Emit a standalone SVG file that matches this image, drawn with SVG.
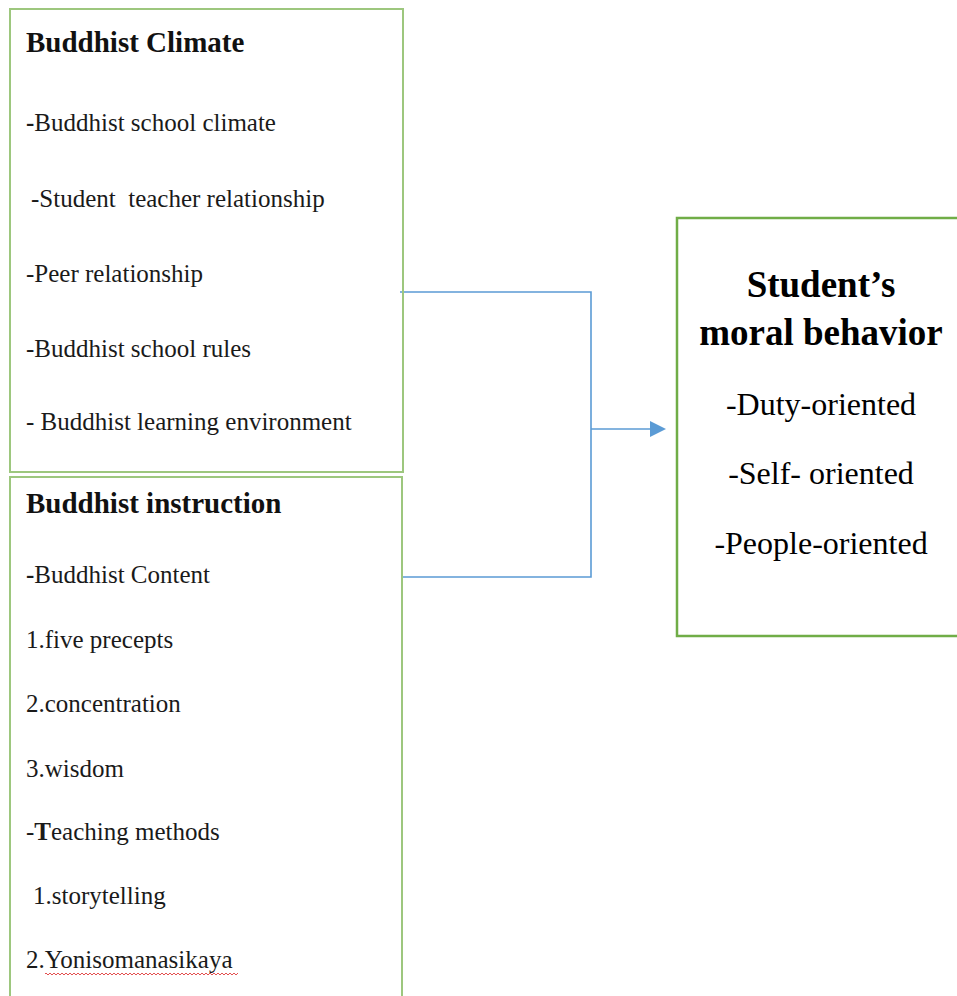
<svg xmlns="http://www.w3.org/2000/svg" width="957" height="996" viewBox="0 0 957 996">
<style>
.box{fill:none;stroke:#9DC77E;stroke-width:2}
.rbox{fill:none;stroke:#70AD47;stroke-width:2.5}
.conn{fill:none;stroke:#5B9BD5;stroke-width:1.6}
.t{font-family:"Liberation Serif","Times New Roman",serif;fill:#1a1a1a;font-size:25px}
.h{font-family:"Liberation Serif","Times New Roman",serif;fill:#111;font-size:29px;font-weight:bold}
.rh{font-family:"Liberation Serif","Times New Roman",serif;fill:#000;font-size:37px;font-weight:bold;text-anchor:middle}
.rt{font-family:"Liberation Serif","Times New Roman",serif;fill:#000;font-size:32px;text-anchor:middle}
.b{font-weight:bold}
.pre{white-space:pre}
</style>
<defs>
<pattern id="wave" width="4" height="4" patternUnits="userSpaceOnUse">
<path d="M0,3 L2,1 L4,3" stroke="#e03c3c" fill="none" stroke-width="0.9"/>
</pattern>
</defs>
<rect width="957" height="996" fill="#fff"/>
<g id="connectors">
<path class="conn" d="M400,292 H591 V577 H403"/>
<path class="conn" d="M591,429 H650"/>
<path d="M650,421 L666,429 L650,437 Z" fill="#5B9BD5"/>
</g>
<g id="buddhist-climate">
<rect class="box" x="10" y="9" width="393" height="463"/>
<text class="h" x="26" y="52">Buddhist Climate</text>
<text class="t" x="26" y="131"><tspan class="b">-</tspan>Buddhist school climate</text>
<text class="t pre" x="31" y="207">-Student  teacher relationship</text>
<text class="t" x="26" y="282">-Peer relationship</text>
<text class="t" x="26" y="357">-Buddhist school rules</text>
<text class="t" x="26" y="430">- Buddhist learning environment</text>
</g>
<g id="buddhist-instruction">
<path class="box" d="M10,1000 V477 H402 V1000"/>
<text class="h" x="26" y="513">Buddhist instruction</text>
<text class="t" x="26" y="583"><tspan class="b">-</tspan>Buddhist Content</text>
<text class="t" x="26" y="648">1.five precepts</text>
<text class="t" x="26" y="712">2.concentration</text>
<text class="t" x="26" y="777">3.wisdom</text>
<text class="t" x="26" y="840">-<tspan class="b">T</tspan>eaching methods</text>
<text class="t" x="33" y="904">1.storytelling</text>
<text class="t" x="26" y="968">2.Yonisomanasikaya</text>
<rect x="45" y="971" width="193" height="4" fill="url(#wave)"/>
</g>
<g id="moral-behavior">
<path class="rbox" d="M960,218 H677 V636 H960"/>
<text class="rh" x="821" y="297">Student’s</text>
<text class="rh" x="821" y="345">moral behavior</text>
<text class="rt" x="821" y="415">-Duty-oriented</text>
<text class="rt" x="821" y="484">-Self- oriented</text>
<text class="rt" x="821" y="554">-People-oriented</text>
</g>
</svg>
